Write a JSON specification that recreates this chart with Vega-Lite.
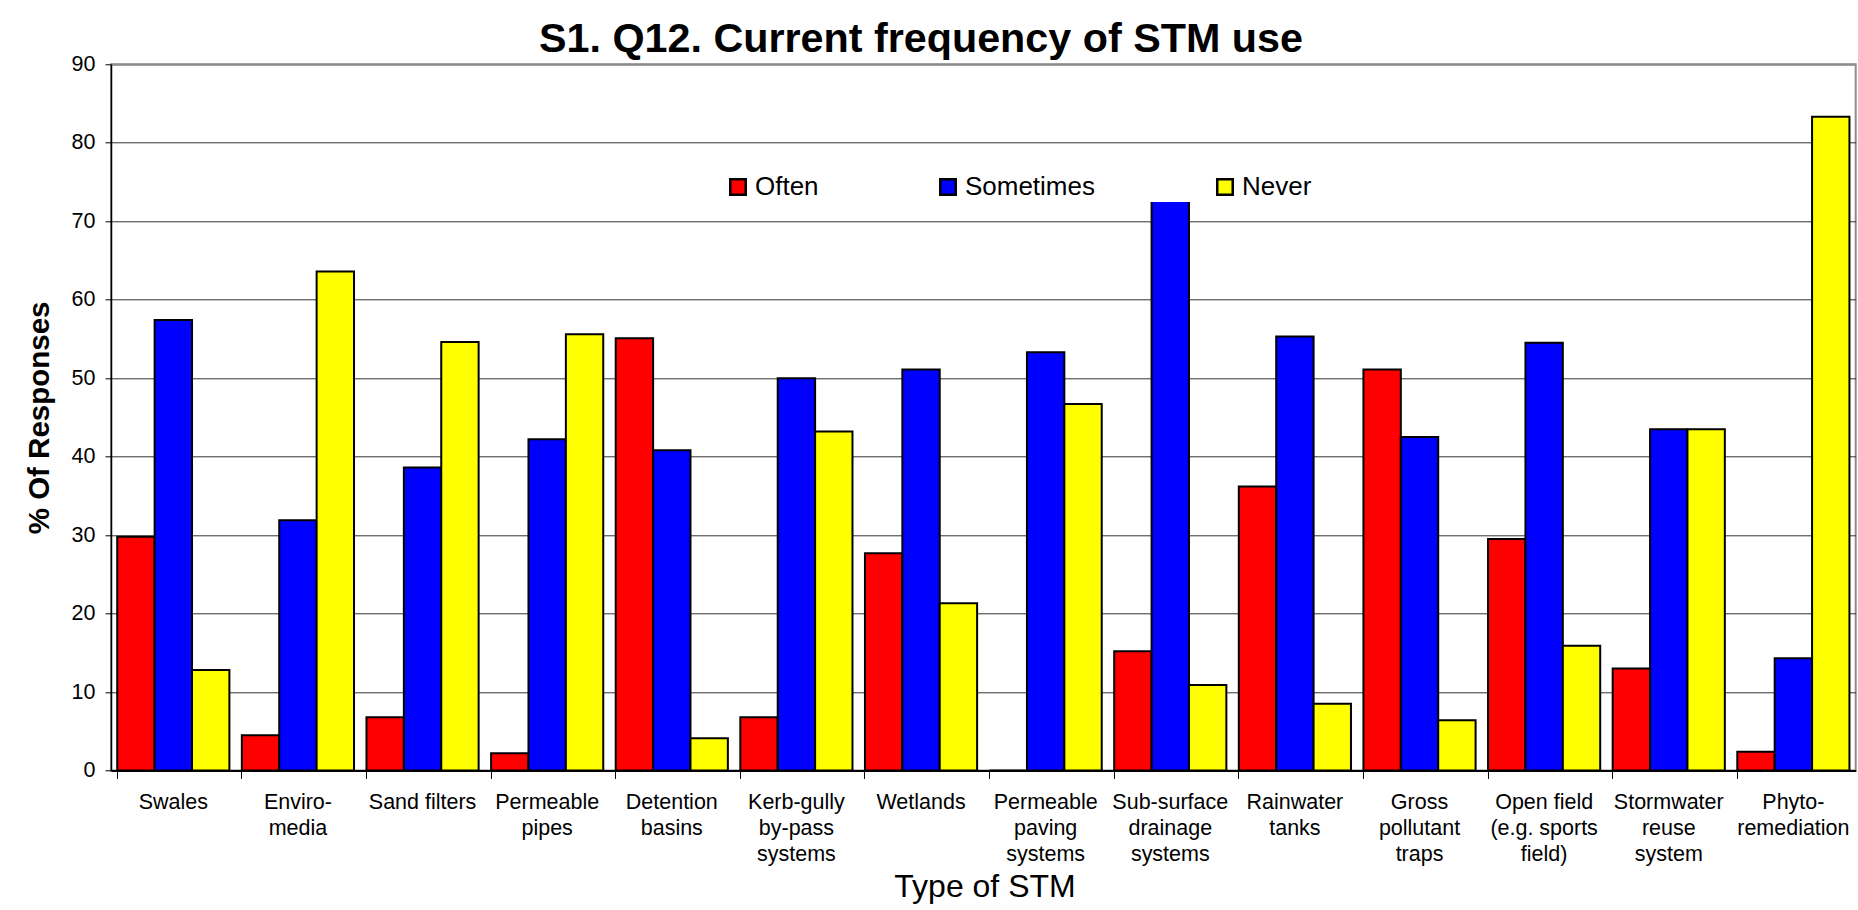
{
  "$schema": "https://vega.github.io/schema/vega-lite/v6.json",
  "autosize": {"type": "none"},
  "padding": {"left": 111, "top": 64.3, "right": 2, "bottom": 139.5},
  "width": 1744.7,
  "height": 706.2,
  "background": "white",
  "title": {
    "text": "S1. Q12. Current frequency of STM use",
    "anchor": "start",
    "frame": "group",
    "dx": 428,
    "dy": 52,
    "offset": 12,
    "baseline": "alphabetic",
    "font": "Liberation Sans",
    "fontSize": 41.3,
    "fontWeight": "bold",
    "color": "black"
  },
  "data": {
    "values": [
      {"stm": "Swales", "freq": "Often", "pct": 29.8},
      {"stm": "Swales", "freq": "Sometimes", "pct": 57.4},
      {"stm": "Swales", "freq": "Never", "pct": 12.8},
      {"stm": "Enviro-|media", "freq": "Often", "pct": 4.5},
      {"stm": "Enviro-|media", "freq": "Sometimes", "pct": 31.9},
      {"stm": "Enviro-|media", "freq": "Never", "pct": 63.6},
      {"stm": "Sand filters", "freq": "Often", "pct": 6.8},
      {"stm": "Sand filters", "freq": "Sometimes", "pct": 38.6},
      {"stm": "Sand filters", "freq": "Never", "pct": 54.6},
      {"stm": "Permeable|pipes", "freq": "Often", "pct": 2.2},
      {"stm": "Permeable|pipes", "freq": "Sometimes", "pct": 42.2},
      {"stm": "Permeable|pipes", "freq": "Never", "pct": 55.6},
      {"stm": "Detention|basins", "freq": "Often", "pct": 55.1},
      {"stm": "Detention|basins", "freq": "Sometimes", "pct": 40.8},
      {"stm": "Detention|basins", "freq": "Never", "pct": 4.1},
      {"stm": "Kerb-gully|by-pass|systems", "freq": "Often", "pct": 6.8},
      {"stm": "Kerb-gully|by-pass|systems", "freq": "Sometimes", "pct": 50.0},
      {"stm": "Kerb-gully|by-pass|systems", "freq": "Never", "pct": 43.2},
      {"stm": "Wetlands", "freq": "Often", "pct": 27.7},
      {"stm": "Wetlands", "freq": "Sometimes", "pct": 51.1},
      {"stm": "Wetlands", "freq": "Never", "pct": 21.3},
      {"stm": "Permeable|paving|systems", "freq": "Often", "pct": 0},
      {"stm": "Permeable|paving|systems", "freq": "Sometimes", "pct": 53.3},
      {"stm": "Permeable|paving|systems", "freq": "Never", "pct": 46.7},
      {"stm": "Sub-surface|drainage|systems", "freq": "Often", "pct": 15.2},
      {"stm": "Sub-surface|drainage|systems", "freq": "Sometimes", "pct": 73.9},
      {"stm": "Sub-surface|drainage|systems", "freq": "Never", "pct": 10.9},
      {"stm": "Rainwater|tanks", "freq": "Often", "pct": 36.2},
      {"stm": "Rainwater|tanks", "freq": "Sometimes", "pct": 55.3},
      {"stm": "Rainwater|tanks", "freq": "Never", "pct": 8.5},
      {"stm": "Gross|pollutant|traps", "freq": "Often", "pct": 51.1},
      {"stm": "Gross|pollutant|traps", "freq": "Sometimes", "pct": 42.5},
      {"stm": "Gross|pollutant|traps", "freq": "Never", "pct": 6.4},
      {"stm": "Open field|(e.g. sports|field)", "freq": "Often", "pct": 29.5},
      {"stm": "Open field|(e.g. sports|field)", "freq": "Sometimes", "pct": 54.5},
      {"stm": "Open field|(e.g. sports|field)", "freq": "Never", "pct": 15.9},
      {"stm": "Stormwater|reuse|system", "freq": "Often", "pct": 13.0},
      {"stm": "Stormwater|reuse|system", "freq": "Sometimes", "pct": 43.5},
      {"stm": "Stormwater|reuse|system", "freq": "Never", "pct": 43.5},
      {"stm": "Phyto-|remediation", "freq": "Often", "pct": 2.4},
      {"stm": "Phyto-|remediation", "freq": "Sometimes", "pct": 14.3},
      {"stm": "Phyto-|remediation", "freq": "Never", "pct": 83.3}
    ]
  },
  "mark": {"type": "bar", "stroke": "black", "strokeWidth": 2},
  "encoding": {
    "x": {
      "field": "stm",
      "type": "nominal",
      "sort": null,
      "scale": {"paddingInner": 0.1, "paddingOuter": 0.05},
      "axis": {
        "title": "Type of STM",
        "titleFont": "Liberation Sans",
        "titleFontSize": 32,
        "titleFontWeight": "normal",
        "titleColor": "black",
        "titleBaseline": "alphabetic",
        "titleAlign": "center",
        "titleX": 873.5,
        "titleY": 126.2,
        "labelExpr": "split(datum.label, '|')",
        "labelFont": "Liberation Sans",
        "labelFontSize": 21.5,
        "labelLineHeight": 26,
        "labelColor": "black",
        "labelAngle": 0,
        "labelPadding": 13,
        "labelOverlap": false,
        "labelFlush": false,
        "labelLimit": 200,
        "bandPosition": 0,
        "tickSize": 8,
        "tickColor": "black",
        "tickWidth": 1,
        "domainColor": "black",
        "domainWidth": 2,
        "grid": false
      }
    },
    "xOffset": {
      "field": "freq",
      "type": "nominal",
      "sort": ["Often", "Sometimes", "Never"],
      "scale": {"paddingInner": 0, "paddingOuter": 0}
    },
    "y": {
      "field": "pct",
      "type": "quantitative",
      "scale": {"domain": [0, 90], "nice": false},
      "axis": {
        "title": "% Of Responses",
        "titleFont": "Liberation Sans",
        "titleFontSize": 29.5,
        "titleFontWeight": "bold",
        "titleColor": "black",
        "titleAngle": 270,
        "titleBaseline": "middle",
        "titleAlign": "center",
        "titleX": -71,
        "titleY": 353.1,
        "values": [0, 10, 20, 30, 40, 50, 60, 70, 80, 90],
        "labelFont": "Liberation Sans",
        "labelFontSize": 21.5,
        "labelColor": "black",
        "labelPadding": 10,
        "tickSize": 6,
        "tickColor": "black",
        "domainColor": "black",
        "domainWidth": 1.5,
        "grid": true,
        "gridColor": {"condition": {"test": "datum.value === 90", "value": "#8c8c8c"}, "value": "#333333"},
        "gridWidth": {"condition": {"test": "datum.value === 90", "value": 2}, "value": 1}
      }
    },
    "color": {
      "field": "freq",
      "type": "nominal",
      "sort": ["Often", "Sometimes", "Never"],
      "scale": {"domain": ["Often", "Sometimes", "Never"], "range": ["#FF0000", "#0000FF", "#FFFF00"]},
      "legend": {
        "title": null,
        "orient": "none",
        "direction": "horizontal",
        "legendX": 612,
        "legendY": 107.7,
        "fillColor": "white",
        "padding": 2,
        "symbolType": "square",
        "symbolSize": 240,
        "symbolStrokeColor": "black",
        "symbolStrokeWidth": 2.5,
        "symbolOpacity": 1,
        "labelFont": "Liberation Sans",
        "labelFontSize": 26,
        "labelColor": "black",
        "labelOffset": 4,
        "columnPadding": 116
      }
    }
  },
  "config": {
    "view": {"stroke": "#8c8c8c", "strokeWidth": 2},
    "font": "Liberation Sans"
  }
}
